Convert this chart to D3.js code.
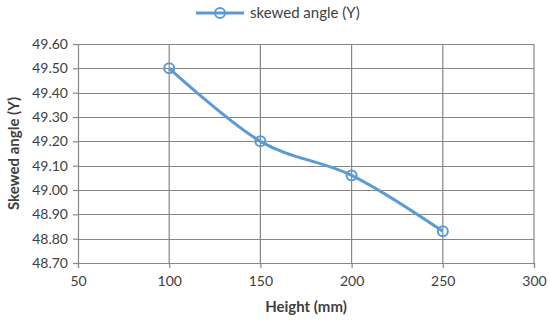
<!DOCTYPE html>
<html><head><meta charset="utf-8">
<script src="https://cdn.jsdelivr.net/npm/d3@7"></script>
<style>body{margin:0;background:#fff}svg{display:block}</style>
</head><body>
<svg id="c" width="550" height="321"></svg>
<script>
const heights = [100, 150, 200, 250];
const angles = [49.50, 49.20, 49.06, 48.83];
const xTicks = [50, 100, 150, 200, 250, 300];
const yTicks = [48.70, 48.80, 48.90, 49.00, 49.10, 49.20, 49.30, 49.40, 49.50, 49.60];
const seriesName = "skewed angle (Υ)";
const xTitle = "Height (mm)";
const yTitle = "Skewed angle (Υ)";

const svg = d3.select("#c");
const font = "Lato, 'Open Sans', sans-serif";
const grid = "#868686";
const blue = "#5b9bd5";
const x = d3.scaleLinear().domain([50, 300]).range([78, 534]);
const y = d3.scaleLinear().domain([48.70, 49.60]).range([263, 44]);

// gridlines
svg.append("g").selectAll("line").data(yTicks.slice(1)).join("line")
  .attr("x1", x(50)).attr("x2", x(300)).attr("y1", d => Math.round(y(d)) + 0.5).attr("y2", d => Math.round(y(d)) + 0.5)
  .attr("stroke", grid).attr("stroke-width", 1.2);
svg.append("g").selectAll("line").data(xTicks.slice(1)).join("line")
  .attr("x1", d => x(d)).attr("x2", d => x(d)).attr("y1", y(48.70)).attr("y2", y(49.60))
  .attr("stroke", grid).attr("stroke-width", 1.2);

// axes
const yAxis = svg.append("g").attr("transform", `translate(${x(50)},0)`)
  .call(d3.axisLeft(y).tickValues(yTicks).tickFormat(d3.format(".2f")).tickSize(5).tickPadding(5));
const xAxis = svg.append("g").attr("transform", `translate(0,${y(48.70)})`)
  .call(d3.axisBottom(x).tickValues(xTicks).tickFormat(d3.format("d")).tickSize(5).tickPadding(8));
[yAxis, xAxis].forEach(a => {
  a.select(".domain").attr("stroke", grid).attr("stroke-width", 1.2);
  a.selectAll(".tick line").attr("stroke", grid).attr("stroke-width", 1.2);
  a.selectAll("text").attr("font-family", font).attr("font-size", 14).attr("fill", "#404040");
});

// line
const pts = heights.map((h, i) => [h, angles[i]]);
const line = d3.line().x(d => x(d[0])).y(d => y(d[1])).curve(d3.curveCatmullRom.alpha(0));
svg.append("path").datum(pts).attr("d", line).attr("fill", "none")
  .attr("stroke", blue).attr("stroke-width", 3);
svg.append("g").selectAll("circle").data(pts).join("circle")
  .attr("cx", d => x(d[0])).attr("cy", d => y(d[1])).attr("r", 5)
  .attr("fill", "none").attr("stroke", blue).attr("stroke-width", 2);

// legend
const lg = svg.append("g");
lg.append("line").attr("x1", 196).attr("x2", 244).attr("y1", 13).attr("y2", 13)
  .attr("stroke", blue).attr("stroke-width", 3);
lg.append("circle").attr("cx", 220).attr("cy", 13).attr("r", 5)
  .attr("fill", "none").attr("stroke", blue).attr("stroke-width", 2);
lg.append("text").attr("x", 250).attr("y", 18).text(seriesName)
  .attr("font-family", font).attr("font-size", 15).attr("fill", "#404040");

// titles
svg.append("text").attr("x", (x(50) + x(300)) / 2).attr("y", 312).attr("text-anchor", "middle")
  .attr("font-family", font).attr("font-size", 15).attr("font-weight", "bold").attr("fill", "#404040")
  .text(xTitle);
svg.append("text").attr("transform", `translate(19,${(y(48.70) + y(49.60)) / 2}) rotate(-90)`)
  .attr("text-anchor", "middle")
  .attr("font-family", font).attr("font-size", 15).attr("font-weight", "bold").attr("fill", "#404040")
  .text(yTitle);
</script>
</body></html>
